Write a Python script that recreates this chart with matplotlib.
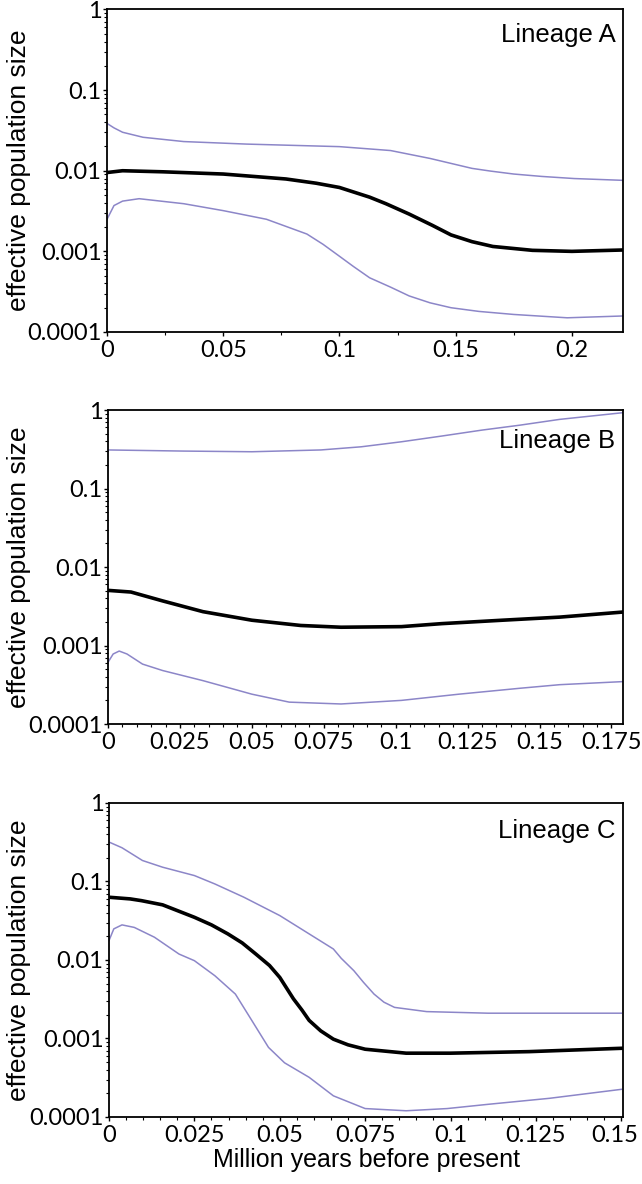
import matplotlib
matplotlib.use("Agg")
import matplotlib.pyplot as plt
import matplotlib.ticker as mticker
import matplotlib.transforms as mtrans
import numpy as np

PURPLE = "#8c86c8"
BLACK = "#000000"
TICK_FONT = "Lato"
LABEL_FONT = "Liberation Sans"

# ── Lineage A ──
a_x_mid = [0, 0.0067, 0.024, 0.05, 0.077, 0.09, 0.1, 0.113, 0.12, 0.130, 0.14, 0.148, 0.157, 0.166, 0.183, 0.2, 0.222]
a_mid = [0.0095, 0.0100, 0.0097, 0.0091, 0.0079, 0.0070, 0.0062, 0.0047, 0.0039, 0.0029, 0.0021, 0.0016, 0.00132, 0.00115, 0.00103, 0.0010, 0.00104]
a_x_up = [0, 0.003, 0.0067, 0.0155, 0.033, 0.06, 0.1, 0.122, 0.139, 0.157, 0.165, 0.175, 0.187, 0.201, 0.222]
a_up = [0.0386, 0.034, 0.030, 0.026, 0.023, 0.0214, 0.0199, 0.0178, 0.0142, 0.0107, 0.0099, 0.0091, 0.0085, 0.0080, 0.0076]
a_x_lo = [0, 0.003, 0.0067, 0.0138, 0.033, 0.05, 0.0686, 0.086, 0.093, 0.1, 0.106, 0.113, 0.122, 0.130, 0.139, 0.148, 0.16, 0.175, 0.198, 0.222]
a_lo = [0.0025, 0.0037, 0.0042, 0.0045, 0.0039, 0.0032, 0.0025, 0.00164, 0.00122, 0.00087, 0.00065, 0.00047, 0.00036, 0.00028, 0.00023, 0.0002, 0.00018, 0.000165, 0.00015, 0.000158]

# ── Lineage B ──
b_x_up = [0, 0.026, 0.05, 0.074, 0.088, 0.102, 0.116, 0.13, 0.143, 0.157, 0.179]
b_up = [0.31, 0.30, 0.294, 0.31, 0.34, 0.394, 0.466, 0.555, 0.64, 0.76, 0.925]
b_x_mid = [0, 0.008, 0.019, 0.033, 0.05, 0.067, 0.081, 0.102, 0.116, 0.137, 0.157, 0.179]
b_mid = [0.00504, 0.0048, 0.0037, 0.0027, 0.0021, 0.0018, 0.00171, 0.00174, 0.0019, 0.0021, 0.0023, 0.00267]
b_x_lo = [0, 0.0018, 0.0039, 0.0066, 0.012, 0.019, 0.033, 0.05, 0.063, 0.081, 0.102, 0.122, 0.143, 0.157, 0.179]
b_lo = [0.00061, 0.00078, 0.00085, 0.00078, 0.00058, 0.00048, 0.000357, 0.00024, 0.00019, 0.00018, 0.0002, 0.00024, 0.000285, 0.000317, 0.000347]

# ── Lineage C ──
c_x_up = [0, 0.0038, 0.0098, 0.0157, 0.025, 0.031, 0.0395, 0.05, 0.0586, 0.0657, 0.068, 0.0717, 0.0745, 0.0776, 0.0805, 0.0836, 0.093, 0.111, 0.15]
c_up = [0.318, 0.269, 0.185, 0.152, 0.119, 0.093, 0.063, 0.0368, 0.0215, 0.0138, 0.0105, 0.0073, 0.0052, 0.00368, 0.0029, 0.00249, 0.0022, 0.0021, 0.0021]
c_x_mid = [0, 0.0062, 0.0095, 0.0157, 0.025, 0.03, 0.0348, 0.039, 0.043, 0.047, 0.05, 0.054, 0.0565, 0.0586, 0.062, 0.0657, 0.07, 0.075, 0.087, 0.1, 0.123, 0.15]
c_mid = [0.063, 0.060, 0.057, 0.0504, 0.035, 0.028, 0.0215, 0.0165, 0.0119, 0.0085, 0.006, 0.0032, 0.0023, 0.0017, 0.00125, 0.00098, 0.00083, 0.00073, 0.00065, 0.00065, 0.00068, 0.00075]
c_x_lo = [0, 0.0014, 0.0038, 0.0074, 0.0133, 0.0205, 0.025, 0.031, 0.037, 0.0418, 0.0467, 0.0514, 0.0586, 0.0657, 0.075, 0.087, 0.099, 0.111, 0.129, 0.15]
c_lo = [0.0177, 0.0249, 0.028, 0.026, 0.0195, 0.0119, 0.0098, 0.0063, 0.00368, 0.0017, 0.00077, 0.00049, 0.00032, 0.000186, 0.000128, 0.00012, 0.000128, 0.000145, 0.000173, 0.000225]

y_ticks = [1e-4, 1e-3, 1e-2, 1e-1, 1]
y_labels = ["0.0001", "0.001", "0.01", "0.1", "1"]

panels = [
    dict(name="Lineage A", xmax=0.222, xticks=[0, 0.05, 0.1, 0.15, 0.2],
         xlabels=["0", "0.05", "0.1", "0.15", "0.2"], minor=0.025,
         up=(a_x_up, a_up), mid=(a_x_mid, a_mid), lo=(a_x_lo, a_lo),
         pos=[0.1667, 0.7196, 0.8037, 0.2724], label_y=0.92),
    dict(name="Lineage B", xmax=0.179, xticks=[0, 0.025, 0.05, 0.075, 0.1, 0.125, 0.15, 0.175],
         xlabels=["0", "0.025", "0.05", "0.075", "0.1", "0.125", "0.15", "0.175"], minor=0.005,
         up=(b_x_up, b_up), mid=(b_x_mid, b_mid), lo=(b_x_lo, b_lo),
         pos=[0.1682, 0.3885, 0.8022, 0.2652], label_y=0.90),
    dict(name="Lineage C", xmax=0.1505, xticks=[0, 0.025, 0.05, 0.075, 0.1, 0.125, 0.15],
         xlabels=["0", "0.025", "0.05", "0.075", "0.1", "0.125", "0.15"], minor=0.005,
         up=(c_x_up, c_up), mid=(c_x_mid, c_mid), lo=(c_x_lo, c_lo),
         pos=[0.1698, 0.0566, 0.8006, 0.2652], label_y=0.91),
]

fig = plt.figure(figsize=(6.42, 11.84), dpi=100, facecolor="white")

for p in panels:
    ax = fig.add_axes(p["pos"])
    ax.plot(*p["up"], color=PURPLE, lw=1.1)
    ax.plot(*p["lo"], color=PURPLE, lw=1.1)
    ax.plot(*p["mid"], color=BLACK, lw=2.6)
    ax.set_yscale("log")
    ax.set_ylim(1e-4, 1)
    ax.set_xlim(0, p["xmax"])
    ax.set_yticks(y_ticks)
    ax.set_yticklabels(y_labels, fontfamily=TICK_FONT, fontsize=17)
    ax.yaxis.set_minor_locator(mticker.LogLocator(base=10, subs=np.arange(2, 10)))
    ax.yaxis.set_minor_formatter(mticker.NullFormatter())
    ax.set_xticks(p["xticks"])
    ax.set_xticklabels(p["xlabels"], fontfamily=TICK_FONT, fontsize=17)
    ax.xaxis.set_minor_locator(mticker.MultipleLocator(p["minor"]))
    ax.tick_params(axis="y", which="major", direction="out", length=3, width=1, pad=1)
    ax.tick_params(axis="x", which="major", direction="out", length=3, width=1, pad=3)
    ax.tick_params(axis="both", which="minor", direction="out", length=2, width=0.8)
    for s in ax.spines.values():
        s.set_linewidth(1.3)
    x0, y0, w, h = p["pos"]
    fig.text(19 / 642, y0 + h / 2, "effective population size", rotation=90,
             ha="center", va="center", fontfamily=LABEL_FONT, fontsize=19)
    ax.text(0.985, p["label_y"], p["name"], transform=ax.transAxes, ha="right", va="center",
            fontfamily=LABEL_FONT, fontsize=18.5)

# last label of the bottom panel sits at the right edge of the figure
last = ax.get_xticklabels()[-1]
last.set_transform(last.get_transform() + mtrans.ScaledTranslation(-5 / 72, 0, fig.dpi_scale_trans))

ax.set_xlabel("Million years before present", fontfamily=LABEL_FONT, fontsize=18, labelpad=1)

fig.savefig("out.png", dpi=100, facecolor="white")
